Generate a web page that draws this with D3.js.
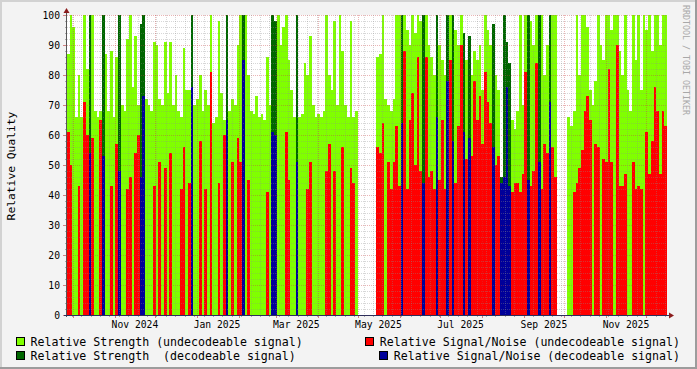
<!DOCTYPE html>
<html lang="en">
<head>
<meta charset="UTF-8" />
<title>Relative Quality</title>
<script src="https://d3js.org/d3.v7.min.js"></script>
<style>
    body { margin: 0; background: #f3f3f3; }
    svg { display: block; font-family: "DejaVu Sans Mono", monospace; }
</style>
</head>
<body>
<svg id="chart" width="697" height="369"></svg>
<script>
// one bar every 2 days, starting here
const startDate = new Date(Date.UTC(2024, 8, 26, 12));
const stepDays = 2;

// relative strength per bar (null = no data)
const strength = [
    87,100,96,66,80,66,100,82,100,100,
    68,66,68,100,87,68,88,66,86,100,
    70,68,92,100,76,93,70,97,100,72,
    70,68,91,90,72,70,91,74,91,70,
    80,68,66,89,75,75,100,70,72,80,
    68,75,70,100,64,66,98,74,65,100,
    68,72,70,90,100,100,100,80,68,67,
    73,66,67,65,86,70,100,98,100,90,
    96,100,85,75,66,100,66,67,84,80,
    93,70,66,67,66,68,100,80,75,98,
    70,100,88,70,66,98,66,68,null,null,
    null,null,null,null,null,86,87,100,72,70,
    68,72,100,100,100,100,95,90,100,94,
    100,98,100,100,90,86,80,100,90,85,
    80,100,100,100,95,90,100,94,85,93,
    80,88,85,90,75,100,95,90,97,80,
    75,46,100,91,84,65,62,68,100,70,
    100,100,98,90,100,100,100,80,90,100,
    100,100,null,null,null,null,66,63,68,100,
    80,100,100,96,75,70,78,100,90,85,
    100,100,95,100,100,88,80,100,75,68,
    100,85,100,75,100,95,100,88,100,100,
    90,100,100
];

// relative signal/noise per bar (0 = none)
const snr = [
    61,50,0,0,43,0,71,60,54,59,
    0,0,65,53,0,0,43,0,57,48,
    0,0,42,46,0,54,60,46,73,0,
    0,0,43,0,51,0,49,0,54,0,
    0,0,42,56,0,44,76,0,0,58,
    0,42,0,81,0,0,44,0,60,65,
    0,51,0,59,51,85,0,45,0,0,
    0,0,0,0,41,0,61,60,0,0,
    0,61,45,0,0,51,0,0,0,42,
    51,0,0,0,0,0,48,57,0,48,
    0,0,56,0,0,49,44,0,null,null,
    null,null,null,null,null,56,54,64,0,51,
    42,51,63,43,64,88,42,65,74,50,
    86,48,44,86,46,48,42,66,45,65,
    42,78,85,58,44,63,90,61,52,59,
    53,78,65,73,57,81,71,64,56,50,
    53,44,46,76,43,41,44,44,41,47,
    81,45,43,48,84,51,42,57,54,71,
    56,46,null,null,null,null,0,0,41,44,
    49,55,68,73,65,0,57,56,0,52,
    51,82,51,0,90,43,43,47,0,0,
    51,42,43,42,0,61,47,58,76,68,
    47,68,63
];

// bars where the signal could be decoded
const decoded = [8,13,19,27,28,46,59,65,76,77,85,124,132,137,141,143,147,149,158,161,162,163,164,171,175,179];

const yTicks = [0,10,20,30,40,50,60,70,80,90,100];
const labelDates = ["2024-11-16","2025-01-16","2025-03-16","2025-05-16","2025-07-16","2025-09-16","2025-11-16"];
const labelTexts = ["Nov 2024","Jan 2025","Mar 2025","May 2025","Jul 2025","Sep 2025","Nov 2025"];

const legendItems = [
    { text: "Relative Strength (undecodeable signal)", color: "#80ff00", col: 0, row: 0 },
    { text: "Relative Signal/Noise (undecodeable signal)", color: "#ff0000", col: 1, row: 0 },
    { text: "Relative Strength  (decodeable signal)", color: "#006600", col: 0, row: 1 },
    { text: "Relative Signal/Noise (decodeable signal)", color: "#000099", col: 1, row: 1 }
];

const plotL = 67, plotR = 667, plotT = 15, plotB = 315;
const svg = d3.select("#chart");

// frame
svg.append("rect").attr("width", 697).attr("height", 369).attr("fill", "#f3f3f3");
svg.append("rect").attr("x", 0).attr("y", 0).attr("width", 697).attr("height", 2).attr("fill", "#d2d2d2");
svg.append("rect").attr("x", 0).attr("y", 0).attr("width", 2).attr("height", 369).attr("fill", "#d2d2d2");
svg.append("rect").attr("x", 0).attr("y", 367).attr("width", 697).attr("height", 2).attr("fill", "#9c9c9c");
svg.append("rect").attr("x", 695).attr("y", 0).attr("width", 2).attr("height", 369).attr("fill", "#9c9c9c");

// plot canvas
svg.append("rect").attr("x", plotL).attr("y", plotT).attr("width", plotR - plotL).attr("height", plotB - plotT).attr("fill", "#fff");

const endDate = d3.utcDay.offset(startDate, strength.length * stepDays);
const x = d3.scaleUtc().domain([startDate, endDate]).range([plotL, plotR]);
const y = d3.scaleLinear().domain([0, 100]).range([plotB, plotT]);

const decodedSet = new Set(decoded);
const rows = strength.map((s, i) => ({
    x0: Math.round(x(d3.utcDay.offset(startDate, i * stepDays))),
    x1: Math.round(x(d3.utcDay.offset(startDate, (i + 1) * stepDays))),
    strength: s,
    snr: snr[i],
    decoded: decodedSet.has(i)
}));

const bars = svg.append("g").attr("shape-rendering", "crispEdges");

bars.selectAll("rect.str")
    .data(rows.filter(d => d.strength != null))
    .join("rect")
    .attr("class", "str")
    .attr("x", d => d.x0)
    .attr("width", d => d.x1 - d.x0)
    .attr("y", d => Math.round(y(d.strength)))
    .attr("height", d => plotB - Math.round(y(d.strength)))
    .attr("fill", d => d.decoded ? "#006600" : "#80ff00");

bars.selectAll("rect.snr")
    .data(rows.filter(d => d.snr))
    .join("rect")
    .attr("class", "snr")
    .attr("x", d => d.x0)
    .attr("width", d => d.x1 - d.x0)
    .attr("y", d => Math.round(y(d.snr)))
    .attr("height", d => plotB - Math.round(y(d.snr)))
    .attr("fill", d => d.decoded ? "#000099" : "#ff0000");

// grid on top of the bars
const grid = svg.append("g").attr("shape-rendering", "crispEdges");
const minorCol = "rgba(140,140,140,0.35)";
const majorCol = "rgba(200,60,60,0.38)";

d3.range(2, 100, 2).filter(v => v % 10 !== 0).forEach(v => {
    grid.append("line")
        .attr("x1", plotL).attr("x2", plotR)
        .attr("y1", y(v) + 0.5).attr("y2", y(v) + 0.5)
        .attr("stroke", minorCol).attr("stroke-dasharray", "1,1");
});
yTicks.filter(v => v > 0).forEach(v => {
    grid.append("line")
        .attr("x1", plotL).attr("x2", plotR)
        .attr("y1", y(v) + 0.5).attr("y2", y(v) + 0.5)
        .attr("stroke", majorCol).attr("stroke-dasharray", "1,1");
});

const months = d3.utcMonth.range(startDate, endDate);
const monthKeys = new Set(months.map(d => +d));
d3.utcMonday.range(startDate, endDate).filter(d => !monthKeys.has(+d)).forEach(d => {
    const px = Math.round(x(d)) + 0.5;
    grid.append("line")
        .attr("x1", px).attr("x2", px).attr("y1", plotT).attr("y2", plotB)
        .attr("stroke", minorCol).attr("stroke-dasharray", "1,1");
    grid.append("line")
        .attr("x1", px).attr("x2", px).attr("y1", plotB).attr("y2", plotB + 2)
        .attr("stroke", "#aaa");
});
months.forEach(d => {
    const px = Math.round(x(d)) + 0.5;
    grid.append("line")
        .attr("x1", px).attr("x2", px).attr("y1", plotT).attr("y2", plotB)
        .attr("stroke", majorCol).attr("stroke-dasharray", "1,1");
    grid.append("line")
        .attr("x1", px).attr("x2", px).attr("y1", plotB).attr("y2", plotB + 3)
        .attr("stroke", "#d08080");
});

// y ticks
d3.range(0, 101, 2).forEach(v => {
    grid.append("line")
        .attr("x1", v % 10 === 0 ? plotL - 4 : plotL - 2).attr("x2", plotL)
        .attr("y1", y(v) + 0.5).attr("y2", y(v) + 0.5)
        .attr("stroke", v % 10 === 0 ? "#d08080" : "#aaa");
});

// axes
const axisCol = "#2e2e5a";
svg.append("line").attr("x1", plotL - 0.5).attr("x2", plotL - 0.5).attr("y1", plotB + 2).attr("y2", 11)
    .attr("stroke", "#555").attr("shape-rendering", "crispEdges");
svg.append("line").attr("x1", plotL - 3).attr("x2", plotR + 3).attr("y1", plotB + 0.5).attr("y2", plotB + 0.5)
    .attr("stroke", axisCol).attr("shape-rendering", "crispEdges");
svg.append("path").attr("d", `M${plotL - 3.5},13 L${plotL + 2.5},13 L${plotL - 0.5},8 Z`).attr("fill", "#8b1c1c");
svg.append("path").attr("d", `M${plotR + 2},${plotB - 2.5} L${plotR + 2},${plotB + 3.5} L${plotR + 7},${plotB + 0.5} Z`).attr("fill", "#8b1c1c");

// tick labels
svg.append("g").selectAll("text")
    .data(yTicks)
    .join("text")
    .attr("x", plotL - 7)
    .attr("y", d => y(d) + 3.5)
    .attr("text-anchor", "end")
    .attr("font-size", "9.7px")
    .attr("fill", "#000")
    .text(d => d);

svg.append("g").selectAll("text")
    .data(labelDates)
    .join("text")
    .attr("x", d => x(new Date(d + "T00:00:00Z")))
    .attr("y", 328)
    .attr("text-anchor", "middle")
    .attr("font-size", "9.7px")
    .attr("fill", "#000")
    .text((d, i) => labelTexts[i]);

// axis title
svg.append("text")
    .attr("transform", "translate(15,166) rotate(-90)")
    .attr("text-anchor", "middle")
    .attr("font-size", "11.3px")
    .attr("fill", "#000")
    .text("Relative Quality");

// watermark
svg.append("text")
    .attr("transform", "translate(683,5) rotate(90)")
    .attr("font-size", "8.3px")
    .attr("fill", "#a8a8a8")
    .text("RRDTOOL / TOBI OETIKER");

// legend
const legend = svg.append("g");
legendItems.forEach(item => {
    const by = 345.5 + item.row * 14;
    const t = legend.append("text")
        .attr("y", by)
        .attr("font-size", "11.6px")
        .attr("fill", "#000")
        .style("white-space", "pre")
        .text(item.text);
    let tx;
    if (item.col === 0) {
        tx = 30.5;
        t.attr("x", tx);
    } else {
        tx = 680 - t.node().getComputedTextLength();
        t.attr("x", tx);
    }
    legend.append("rect")
        .attr("x", Math.round(tx - 15) + 0.5)
        .attr("y", by - 8)
        .attr("width", 8).attr("height", 8)
        .attr("fill", item.color)
        .attr("stroke", "#000")
        .attr("stroke-width", 1);
});
</script>
</body>
</html>
